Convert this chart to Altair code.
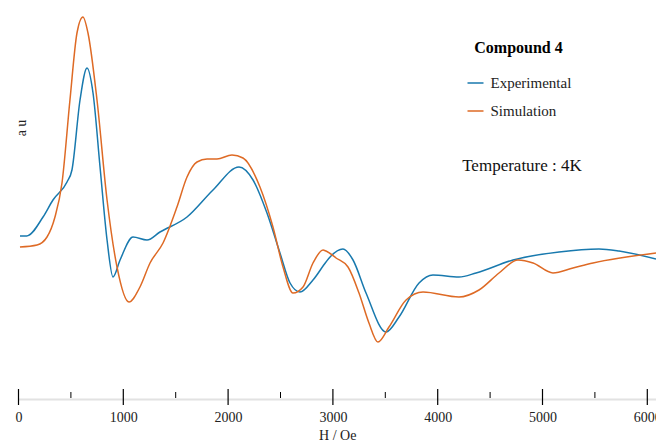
import altair as alt
import pandas as pd

# Magnetic field H (Oe) and intensity (a.u.)
exp_h = [14, 78, 234, 329, 463, 510, 587, 654, 711, 778, 845, 902, 969, 1093,
         1226, 1350, 1608, 1856, 2104, 2238, 2371, 2495, 2591, 2686, 2810, 2934,
         2973, 3096, 3192, 3316, 3507, 3631, 3822, 3955, 4203, 4366, 4719, 5158,
         5539, 5730, 6083]
exp_v = [0.04, 0.04, 0.23, 0.40, 0.58, 0.70, 1.40, 1.72, 1.47, 0.73, 0.00, -0.37,
         -0.20, 0.03, 0.00, 0.08, 0.23, 0.50, 0.73, 0.60, 0.27, -0.13, -0.43, -0.52,
         -0.40, -0.22, -0.17, -0.09, -0.20, -0.53, -0.92, -0.77, -0.43, -0.35, -0.37,
         -0.33, -0.20, -0.12, -0.09, -0.11, -0.19]
sim_h = [14, 177, 272, 348, 415, 491, 558, 615, 663, 749, 845, 940, 1054, 1159,
         1255, 1379, 1512, 1608, 1703, 1799, 1894, 2037, 2142, 2304, 2428, 2524,
         2619, 2715, 2810, 2906, 2934, 3030, 3144, 3249, 3344, 3430, 3535, 3698,
         3860, 4203, 4394, 4585, 4766, 4910, 5100, 5291, 5482, 6083]
sim_v = [-0.07, -0.05, 0.03, 0.23, 0.57, 1.40, 2.07, 2.23, 2.07, 1.40, 0.40, -0.27,
         -0.62, -0.47, -0.23, -0.03, 0.33, 0.63, 0.78, 0.81, 0.81, 0.85, 0.82, 0.53,
         0.13, -0.27, -0.53, -0.47, -0.23, -0.10, -0.11, -0.18, -0.27, -0.53, -0.83,
         -1.02, -0.87, -0.60, -0.52, -0.57, -0.50, -0.33, -0.20, -0.23, -0.33, -0.28,
         -0.23, -0.13]

series_names = ["Experimental", "Simulation"]
series_colors = ["#1879ae", "#de6a25"]

rows = []
for h, v in zip(exp_h, exp_v):
    rows.append({"H": h, "I": v, "series": series_names[0], "order": len(rows)})
for h, v in zip(sim_h, sim_v):
    rows.append({"H": h, "I": v, "series": series_names[1], "order": len(rows)})
df = pd.DataFrame(rows)

x_ticks = [0, 1000, 2000, 3000, 4000, 5000, 6000]
minor_ticks = [500, 1500, 2500, 3500, 4500, 5500]

serif = "Liberation Serif"

x_scale = alt.Scale(domain=[0, 6083], nice=False, zero=False)
y_scale = alt.Scale(domain=[-1.59, 2.40], nice=False, zero=False)

lines = alt.Chart(df).mark_line(strokeWidth=1.5, interpolate="monotone", clip=True).encode(
    x=alt.X("H:Q", scale=x_scale,
            axis=alt.Axis(values=x_ticks, format="d", title="H / Oe", grid=False,
                          domainColor="#e2e2e2", domainWidth=2, ticks=False,
                          labelFont=serif, labelFontSize=14, labelColor="#222222",
                          labelPadding=11, titleFont=serif, titleFontSize=14,
                          titleFontWeight="normal", titleColor="#222222",
                          titlePadding=4, labelFlush=False)),
    y=alt.Y("I:Q", scale=y_scale,
            axis=alt.Axis(domain=False, ticks=False, labels=False, grid=False, title=None)),
    color=alt.Color("series:N",
                    scale=alt.Scale(domain=series_names, range=series_colors),
                    legend=alt.Legend(title="Compound 4", orient="none", legendX=448,
                                      legendY=40, symbolType="stroke", symbolSize=256,
                                      symbolStrokeWidth=1.5, labelFont=serif,
                                      labelFontSize=15, labelColor="#222222",
                                      titleFont=serif, titleFontSize=16,
                                      titleFontWeight="bold", titleColor="black",
                                      titlePadding=18, rowPadding=11, labelOffset=6,
                                      titleAnchor="middle")),
    order="order:Q",
)

major_df = pd.DataFrame({"H": x_ticks})
major = alt.Chart(major_df).mark_rule(color="black", strokeWidth=1.2).encode(
    x=alt.X("H:Q", scale=x_scale),
    y=alt.value(389),
    y2=alt.value(405),
)

minor_df = pd.DataFrame({"H": minor_ticks})
minor = alt.Chart(minor_df).mark_rule(color="black", strokeWidth=1).encode(
    x=alt.X("H:Q", scale=x_scale),
    y=alt.value(392),
    y2=alt.value(398),
)

ytitle = alt.Chart(pd.DataFrame({"t": ["a u"]})).mark_text(
    font=serif, fontSize=14, angle=270, align="center", baseline="middle", color="#222222"
).encode(text="t:N", x=alt.value(3), y=alt.value(128))

temp = alt.Chart(pd.DataFrame({"t": ["Temperature : 4K"]})).mark_text(
    font=serif, fontSize=17, align="center", baseline="middle", color="#111111"
).encode(text="t:N", x=alt.value(503.5), y=alt.value(166))

chart = alt.layer(major, minor, lines, ytitle, temp).properties(
    width=637.5, height=399,
    padding={"left": 18.5, "top": 0, "right": 0, "bottom": 43},
    autosize=alt.AutoSizeParams(type="none"),
).configure_view(stroke=None)

chart.save("out.html", embed_options={"renderer": "svg", "actions": False})
